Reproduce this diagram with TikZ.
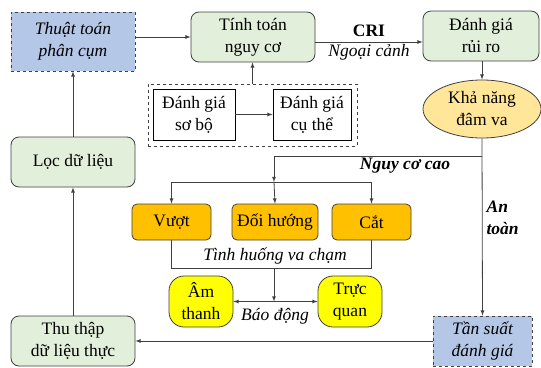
\documentclass[tikz,border=0pt]{standalone}
\usepackage{fontspec}
\setmainfont{Liberation Serif}
\newfontfamily\diagfont{Liberation Serif}
\usetikzlibrary{calc,shapes.geometric}
\definecolor{stepgreen}{HTML}{E2EFDA}
\definecolor{stepblue}{HTML}{B4C7E7}
\definecolor{steporange}{HTML}{FFC000}
\definecolor{stepyellow}{HTML}{FFFF00}
\definecolor{steppeach}{HTML}{FFE699}
\definecolor{stepline}{HTML}{404040}
\tikzset{
  box/.style={
    % The shape:
    rectangle,
    % The border:
    draw=stepline,
    thick,
    % Text
    align=center,
    inner sep=0pt,
    font=\diagfont\fontsize{17.5}{22}\selectfont,
  },
  greenbox/.style={box, fill=stepgreen, rounded corners=8pt},
  bluebox/.style={box, fill=stepblue, dashed, font=\diagfont\fontsize{17.5}{22}\selectfont\itshape},
  plainbox/.style={box, draw=black, thick},
  orangebox/.style={box, fill=steporange, rounded corners=5pt},
  alarmbox/.style={box, fill=stepyellow, rounded corners=15pt},
  label/.style={font=\diagfont\fontsize{17.5}{22}\selectfont\itshape, inner sep=1pt},
  flow/.style={->, >=latex, draw=stepline, thick},
}

\begin{document}
\begin{tikzpicture}[x=1pt, y=-1pt]
  \useasboundingbox (0, 0) rectangle (541, 367);

  % top row
  \node at (73, 41.5) (algo) [bluebox, minimum width=124, minimum height=59] {Thuật toán\\phân cụm};
  \node at (253, 37) (risk) [greenbox, minimum width=124, minimum height=50] {Tính toán\\nguy cơ};
  \node at (481, 36) (eval) [greenbox, minimum width=116, minimum height=50] {Đánh giá\\rủi ro};

  % assessment group
  \node at (252.5, 115) (group) [box, dashed, minimum width=209, minimum height=62] {};
  \node at (194, 114.5) (pre) [plainbox, minimum width=82, minimum height=51] {Đánh giá\\sơ bộ};
  \node at (312, 114.5) (det) [plainbox, minimum width=78, minimum height=51] {Đánh giá\\cụ thể};

  \node at (482, 109) (prob) [box, ellipse, fill=steppeach, minimum width=118, minimum height=58] {Khả năng\\đâm va};

  % left column
  \node at (73, 162) (filter) [greenbox, minimum width=124, minimum height=50] {Lọc dữ liệu};
  \node at (73, 341) (collect) [greenbox, minimum width=124, minimum height=50] {Thu thập\\dữ liệu thực};
  \node at (482.5, 341) (freq) [bluebox, minimum width=99, minimum height=50] {Tần suất\\đánh giá};

  % manoeuvres
  \node at (171.5, 222) (over) [orangebox, minimum width=79, minimum height=36] {Vượt};
  \node at (275, 222) (turn) [orangebox, minimum width=86, minimum height=36] {Đối hướng};
  \node at (371.5, 222) (cut) [orangebox, minimum width=79, minimum height=36] {Cắt};

  % alarms
  \node at (201, 301.5) (sound) [alarmbox, minimum width=64, minimum height=51] {Âm\\thanh};
  \node at (350, 301.5) (visual) [alarmbox, minimum width=64, minimum height=51] {Trực\\quan};

  \coordinate (split) at (482, 156);
  \coordinate (hub) at (274, 182);
  \coordinate (base) at (274, 268);

  \draw [flow] (algo.east |- risk.west) to (risk.west);
  \draw [flow] ([yshift=-5pt]risk.east) to
    node [above=2pt, font=\diagfont\fontsize{17.5}{22}\selectfont\bfseries] {CRI}
    node [below=1pt, label] {Ngoại cảnh}
    ([yshift=-5pt]risk.east -| eval.west);
  \draw [flow] (group.north) to (group.north |- risk.south);
  \draw [flow] (pre.east) to (det.west);
  \draw [flow] (eval.south -| prob.north) to (prob.north);

  \draw [flow] (prob.south) to
    node [pos=0.45, right=3pt, label, font=\diagfont\fontsize{17.5}{22}\selectfont\bfseries\itshape, align=left] {An\\toàn}
    (freq.north);
  \draw [flow] (split) -| (hub);
  \node at (405, 166) (high) [label, font=\diagfont\fontsize{17.5}{22}\selectfont\bfseries\itshape] {Nguy cơ cao};
  \draw [flow] (hub) to (turn.north);
  \draw [flow] (hub) -| (over.north);
  \draw [flow] (hub) -| (cut.north);

  \draw [stepline, thick] (over.south) to (over.south |- base) to (cut.south |- base) to (cut.south);
  \node at (275, 256) (case) [label] {Tình huống va chạm};

  \draw [flow] (base) to (base |- sound.east);
  \draw [flow, <->] (sound.east) to (visual.west);
  \node at (275, 316) (alarm) [label] {Báo động};

  \draw [flow] (freq.west) to (collect.east);
  \draw [flow] (collect.north) to (filter.south);
  \draw [flow] (filter.north) to (algo.south);

\end{tikzpicture}
\end{document}
